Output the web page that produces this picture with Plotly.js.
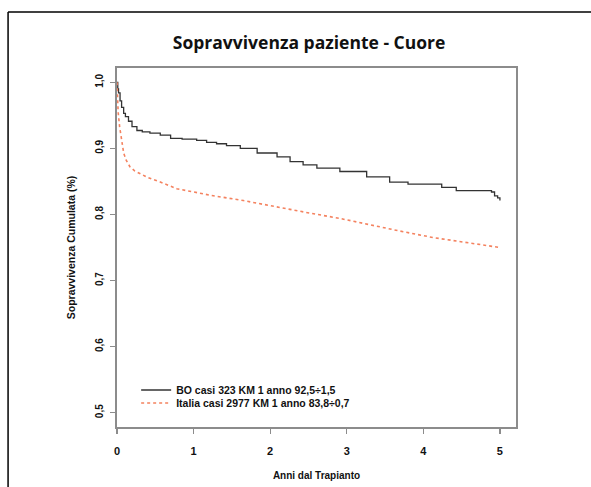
<!DOCTYPE html>
<html>
<head>
<meta charset="utf-8">
<script src="https://cdn.plot.ly/plotly-3.0.1.min.js"></script>
<style>
  html, body { margin: 0; padding: 0; background: #ffffff; }
  #chart { width: 591px; height: 487px; }
</style>
</head>
<body>
<div id="chart"></div>
<script>
// ---- Data ----
const chartTitle = "Sopravvivenza paziente - Cuore";
const xTitle = "Anni dal Trapianto";
const yTitle = "Sopravvivenza Cumulata (%)";

const boName = "BO casi 323 KM 1 anno 92,5÷1,5";
const boYears = [0, 0.01, 0.02, 0.04, 0.06, 0.087, 0.11, 0.15, 0.196, 0.26, 0.33, 0.43, 0.565, 0.70, 0.85, 1.04, 1.17, 1.30, 1.43, 1.61, 1.83, 2.09, 2.26, 2.43, 2.61, 2.91, 3.26, 3.56, 3.80, 4.24, 4.43, 4.89, 4.93, 4.97, 5.0];
const boSurv  = [1.0, 0.99, 0.984, 0.972, 0.962, 0.953, 0.948, 0.941, 0.933, 0.927, 0.925, 0.923, 0.920, 0.915, 0.914, 0.912, 0.909, 0.907, 0.904, 0.900, 0.893, 0.887, 0.880, 0.875, 0.870, 0.865, 0.857, 0.849, 0.846, 0.841, 0.836, 0.834, 0.828, 0.825, 0.821];

const itName = "Italia casi 2977 KM 1 anno 83,8÷0,7";
const itYears = [0, 0.005, 0.015, 0.034, 0.06, 0.087, 0.12, 0.17, 0.23, 0.30, 0.40, 0.565, 0.78, 1.0, 1.22, 1.65, 2.09, 2.52, 2.91, 3.26, 3.69, 4.13, 4.56, 5.0];
const itSurv  = [1.0, 0.98, 0.955, 0.933, 0.91, 0.893, 0.882, 0.872, 0.866, 0.862, 0.856, 0.849, 0.839, 0.834, 0.829, 0.821, 0.811, 0.802, 0.794, 0.785, 0.775, 0.765, 0.758, 0.750];

const xTicks = [0, 1, 2, 3, 4, 5];
const yTicks = [0.5, 0.6, 0.7, 0.8, 0.9, 1.0];

// ---- Styling ----
const sans = 'Arial, Liberation Sans, sans-serif';
const axisGrey = '#8c8c8c';

const traces = [
  {
    x: boYears, y: boSurv, name: boName, type: 'scatter', mode: 'lines',
    line: { color: '#333333', width: 1.3, shape: 'hv' },
    legend: 'legend'
  },
  {
    x: itYears, y: itSurv, name: itName, type: 'scatter', mode: 'lines',
    line: { color: '#f4825f', width: 1.6, dash: 'dot', shape: 'linear' },
    legend: 'legend2'
  }
];

const legendCommon = {
  xanchor: 'left', yanchor: 'middle',
  bgcolor: 'rgba(0,0,0,0)', borderwidth: 0,
  font: { family: sans, size: 10.5, color: '#111111', weight: 'bold' },
  itemclick: false, itemdoubleclick: false
};

const layout = {
  width: 591, height: 487,
  margin: { l: 117, r: 75, t: 68, b: 60, pad: 0 },
  paper_bgcolor: '#ffffff', plot_bgcolor: '#ffffff',
  separators: ', ',
  showlegend: true,
  title: {
    text: chartTitle,
    font: { family: 'Open Sans, sans-serif', size: 17.5, color: '#111111', weight: 'bold' },
    xref: 'container', x: 0.523, xanchor: 'center',
    yref: 'container', y: 0.912, yanchor: 'middle'
  },
  xaxis: {
    range: [0, 5.21],
    tickvals: xTicks, ticktext: xTicks.map(String),
    ticks: 'outside', ticklen: 5, tickwidth: 1.3, tickcolor: axisGrey,
    ticklabelstandoff: 8,
    tickfont: { family: sans, size: 11, color: '#111111', weight: 'bold' },
    showline: true, linecolor: axisGrey, linewidth: 1.6, mirror: true,
    showgrid: false, zeroline: false,
    title: { text: xTitle, standoff: 16, font: { family: sans, size: 10, color: '#111111', weight: 'bold' } }
  },
  yaxis: {
    range: [0.4784, 1.0216],
    tickvals: yTicks, tickformat: '.1f',
    tickangle: -90,
    ticks: 'outside', ticklen: 5, tickwidth: 1.3, tickcolor: axisGrey,
    ticklabelstandoff: 3,
    tickfont: { family: sans, size: 10, color: '#111111', weight: 'bold' },
    showline: true, linecolor: axisGrey, linewidth: 1.6, mirror: true,
    showgrid: false, zeroline: false,
    title: { text: yTitle, standoff: 17, font: { family: sans, size: 10.5, color: '#111111', weight: 'bold' } }
  },
  legend: Object.assign({}, legendCommon, { x: 0.048, y: 0.103 }),
  legend2: Object.assign({}, legendCommon, { x: 0.048, y: 0.067 }),
  shapes: [
    // outer slide frame (top and left edges)
    { type: 'line', xref: 'paper', yref: 'paper', x0: -0.273, x1: 1.19, y0: 1.156, y1: 1.156,
      line: { color: '#000000', width: 1.5 } },
    { type: 'line', xref: 'paper', yref: 'paper', x0: -0.273, x1: -0.273, y0: 1.156, y1: -0.17,
      line: { color: '#000000', width: 1.5 } }
  ]
};

Plotly.newPlot('chart', traces, layout, { staticPlot: true, displayModeBar: false });
</script>
</body>
</html>
